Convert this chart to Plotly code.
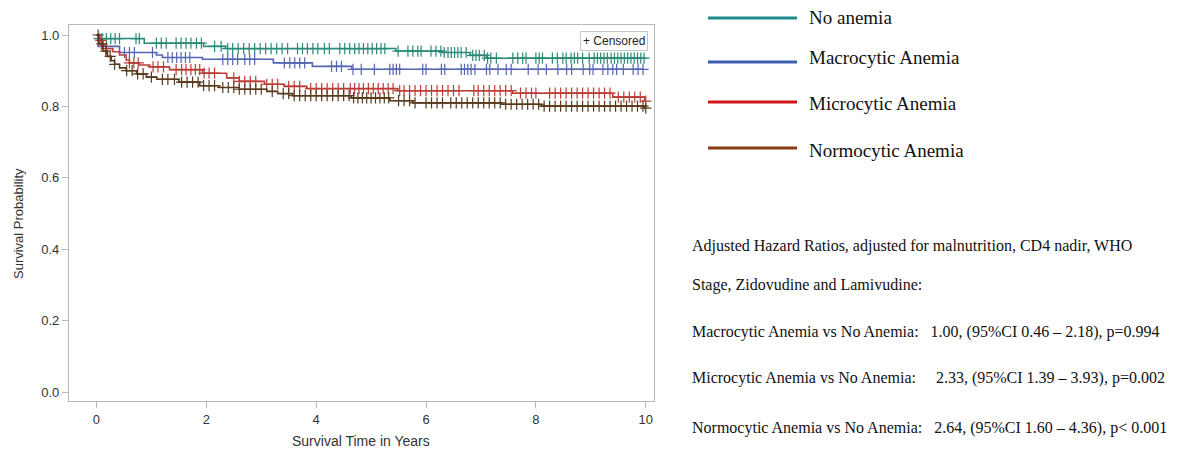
import plotly.graph_objects as go

# ---- Kaplan-Meier step data (years, survival) ----
groups = ["No anemia", "Macrocytic Anemia", "Microcytic Anemia", "Normocytic Anemia"]

noanemia_t = [0, 0.05, 0.87, 1.95, 2.35, 5.45, 6.3, 6.8, 7.1]
noanemia_s = [1.0, 0.99, 0.977, 0.968, 0.962, 0.955, 0.951, 0.943, 0.935]

macro_t = [0, 0.03, 0.42, 1.09, 1.2, 1.93, 3.22, 3.93, 4.65]
macro_s = [1.0, 0.968, 0.951, 0.944, 0.937, 0.932, 0.922, 0.912, 0.904]

micro_t = [0, 0.05, 0.12, 0.18, 0.3, 0.42, 0.54, 0.6, 0.78, 0.97, 1.33, 1.93, 2.37, 2.6,
           3.06, 3.42, 3.83, 5.48, 7.58, 9.4, 9.98]
micro_s = [1.0, 0.985, 0.972, 0.962, 0.953, 0.944, 0.93, 0.922, 0.916, 0.911, 0.903, 0.893,
           0.88, 0.87, 0.862, 0.856, 0.85, 0.844, 0.837, 0.826, 0.815]

normo_t = [0, 0.04, 0.12, 0.2, 0.27, 0.33, 0.42, 0.54, 0.73, 0.91, 1.1, 1.5, 1.88, 2.24,
           2.6, 3.1, 3.3, 3.57, 4.64, 5.34, 5.76, 7.38, 8.1, 9.98]
normo_s = [1.0, 0.975, 0.955, 0.94, 0.928, 0.918, 0.908, 0.9, 0.891, 0.882, 0.876, 0.868,
           0.858, 0.853, 0.848, 0.842, 0.836, 0.83, 0.824, 0.816, 0.81, 0.806, 0.801, 0.795]

# ---- censoring times (years) ----
noanemia_c = [0.05, 0.1, 0.18, 0.26, 0.34, 0.42, 0.72, 0.78, 1.09, 1.18, 1.27, 1.45, 1.54,
              1.63, 1.72, 1.82, 1.91, 2.15, 2.27, 2.39, 2.48, 2.58, 2.68, 2.78, 2.88, 2.98,
              3.08, 3.18, 3.28, 3.38, 3.48, 3.66, 3.75, 3.84, 3.94, 4.03, 4.15, 4.24, 4.43,
              4.52, 4.61, 4.7, 4.78, 4.86, 4.94, 5.02, 5.1, 5.18, 5.25, 5.49, 5.67, 5.76,
              5.85, 5.91, 6.09, 6.18, 6.27, 6.33, 6.4, 6.46, 6.52, 6.58, 6.64, 6.73, 6.85,
              6.91, 6.97, 7.06, 7.12, 7.18, 7.28, 7.58, 7.67, 7.76, 7.82, 8.0, 8.06, 8.12,
              8.3, 8.39, 8.49, 8.55, 8.64, 8.7, 8.76, 8.85, 8.97, 9.06, 9.12, 9.18, 9.24,
              9.3, 9.37, 9.43, 9.49, 9.55, 9.61, 9.67, 9.73, 9.79, 9.85, 9.91, 9.97]
macro_c = [0.51, 0.6, 0.69, 1.02, 1.3, 1.38, 1.46, 1.54, 1.62, 1.7, 2.3, 2.39, 2.48, 2.57,
           2.7, 2.79, 2.88, 3.42, 3.52, 3.61, 3.7, 3.79, 4.28, 4.37, 4.46, 4.67, 4.82, 5.06,
           5.34, 5.4, 5.46, 5.52, 5.94, 6.0, 6.28, 6.34, 6.64, 6.7, 6.76, 6.82, 6.89, 7.1,
           7.16, 7.31, 7.46, 7.55, 7.86, 8.04, 8.19, 8.4, 8.56, 8.65, 8.86, 8.98, 9.04,
           9.22, 9.31, 9.4, 9.47, 9.59, 9.77, 9.86, 9.95]
micro_c = [0.08, 0.18, 0.6, 0.68, 0.76, 1.03, 1.12, 1.22, 1.45, 1.55, 1.63, 1.72, 1.8,
           1.88, 1.96, 2.05, 2.15, 2.5, 2.6, 2.7, 2.8, 2.9, 3.1, 3.2, 3.3, 3.5, 3.6, 3.7,
           3.9, 4.0, 4.1, 4.2, 4.3, 4.4, 4.5, 4.62, 4.7, 4.78, 4.86, 4.95, 5.04, 5.13, 5.22,
           5.31, 5.4, 5.52, 5.6, 5.7, 5.8, 5.9, 6.0, 6.1, 6.2, 6.3, 6.4, 6.5, 6.6, 6.87,
           6.95, 7.05, 7.15, 7.25, 7.35, 7.45, 7.55, 7.72, 7.82, 7.92, 8.0, 8.25, 8.35,
           8.45, 8.55, 8.65, 8.75, 8.85, 8.95, 9.05, 9.15, 9.25, 9.35, 9.5, 9.6, 9.7, 9.8,
           9.9, 10.0]
normo_c = [0.03, 0.1, 0.17, 0.25, 0.33, 0.55, 0.65, 0.75, 0.85, 1.0, 1.2, 1.3, 1.42, 1.55,
           1.65, 1.75, 1.85, 1.95, 2.05, 2.15, 2.3, 2.4, 2.5, 2.6, 2.7, 2.8, 2.9, 3.0, 3.2,
           3.4, 3.5, 3.6, 3.7, 3.8, 3.9, 4.0, 4.1, 4.2, 4.3, 4.4, 4.5, 4.6, 4.68, 4.76,
           4.84, 4.92, 5.0, 5.08, 5.16, 5.24, 5.32, 5.5, 5.6, 5.7, 5.8, 6.0, 6.1, 6.2, 6.3,
           6.45, 6.55, 6.65, 6.75, 6.85, 6.95, 7.05, 7.15, 7.25, 7.35, 7.45, 7.55, 7.65,
           7.75, 7.85, 7.95, 8.05, 8.15, 8.25, 8.35, 8.45, 8.55, 8.65, 8.75, 8.85, 8.95,
           9.05, 9.15, 9.25, 9.35, 9.45, 9.55, 9.65, 9.75, 9.85, 9.95, 10.0]

x_ticks = [0, 2, 4, 6, 8, 10]
y_ticks = [0.0, 0.2, 0.4, 0.6, 0.8, 1.0]

x_title = "Survival Time in Years"
y_title = "Survival Probability"

hr_lines = [
    "Adjusted Hazard Ratios, adjusted for malnutrition, CD4 nadir, WHO",
    "Stage, Zidovudine and Lamivudine:",
    "Macrocytic Anemia vs No Anemia:   1.00, (95%CI 0.46 \u2013 2.18), p=0.994",
    "Microcytic Anemia vs No Anemia:     2.33, (95%CI 1.39 \u2013 3.93), p=0.002",
    "Normocytic Anemia vs No Anemia:   2.64, (95%CI 1.60 \u2013 4.36), p< 0.001",
]

plot_colors = ["#2B8A78", "#5566B4", "#BC3D36", "#5A3A1C"]
legend_colors = ["#1E8C8A", "#3A5DAE", "#D0161A", "#8A3A12"]

series = [
    (noanemia_t, noanemia_s, noanemia_c),
    (macro_t, macro_s, macro_c),
    (micro_t, micro_s, micro_c),
    (normo_t, normo_s, normo_c),
]


def surv_at(times, surv, c):
    val = surv[0]
    for t, s in zip(times, surv):
        if t <= c:
            val = s
    return val


fig = go.Figure()
for (t, s, c), col, name in zip(series, plot_colors, groups):
    tend = max(c[-1], t[-1])
    fig.add_trace(go.Scatter(x=t + [tend], y=s + [s[-1]], mode="lines",
                             line=dict(color=col, width=1.6, shape="hv"),
                             name=name, showlegend=False, hoverinfo="skip"))
    fig.add_trace(go.Scatter(x=c, y=[surv_at(t, s, ci) for ci in c], mode="markers",
                             marker=dict(symbol="cross-thin", size=8,
                                         line=dict(color=col, width=1.2)),
                             showlegend=False, hoverinfo="skip"))

axis_font = dict(family="Liberation Sans Narrow, Arial Narrow, Liberation Sans, Arial",
                 size=13, color="#333333")

# plot area in page pixels: left 69, right 654, top 25, bottom 401
L, R, T, B = 69, 654, 25, 401
W, H = 1177, 453


def px(xp):
    return (xp - L) / (R - L)


def py(yp):
    return (B - yp) / (B - T)


fig.update_layout(
    width=W, height=H,
    margin=dict(l=L, r=W - R, t=T, b=H - B, autoexpand=False),
    plot_bgcolor="white", paper_bgcolor="white",
    showlegend=False,
    font=axis_font,
)
fig.update_xaxes(range=[-0.5, 10.15], tickvals=x_ticks, ticktext=[str(v) for v in x_ticks],
                 showgrid=False, zeroline=False, showline=True, linecolor="#B8B8B8",
                 linewidth=1.2, mirror=True, ticks="outside", ticklen=6, tickcolor="#B8B8B8",
                 tickfont=axis_font, automargin=False)
fig.update_yaxes(range=[-0.025, 1.028], tickvals=y_ticks,
                 ticktext=["%.1f" % v for v in y_ticks],
                 showgrid=False, zeroline=False, showline=True, linecolor="#B8B8B8",
                 linewidth=1.2, mirror=True, ticks="outside", ticklen=6, tickcolor="#B8B8B8",
                 tickfont=axis_font, automargin=False)

# axis titles
fig.add_annotation(xref="paper", yref="paper", x=px(361), y=py(441), xanchor="center",
                   yanchor="middle", text=x_title, showarrow=False,
                   font=dict(axis_font, size=14))
fig.add_annotation(xref="paper", yref="paper", x=px(18), y=py(224), xanchor="center",
                   yanchor="middle", text=y_title, showarrow=False, textangle=-90,
                   font=dict(axis_font, size=13))

# Censored legend box inside plot
fig.add_annotation(xref="x domain", yref="y domain", x=0.99, y=0.985, xanchor="right",
                   yanchor="top", text="+ Censored", showarrow=False,
                   font=dict(family="Liberation Sans, Arial", size=12, color="#222222"),
                   bordercolor="#C8C8C8", borderwidth=1, borderpad=2, bgcolor="white")

# Custom legend on the right (page pixel positions)
leg_line_y = [18, 62, 102, 148]
leg_text_y = [17, 57, 103, 150]
serif = "Liberation Serif, Times New Roman, serif"
for name, col, ly, ty in zip(groups, legend_colors, leg_line_y, leg_text_y):
    fig.add_shape(type="line", xref="paper", yref="paper", x0=px(708), x1=px(797),
                  y0=py(ly), y1=py(ly), line=dict(color=col, width=3))
    fig.add_annotation(xref="paper", yref="paper", x=px(807), y=py(ty), xanchor="left",
                       yanchor="middle", text=name, showarrow=False,
                       font=dict(family=serif, size=19, color="#111111"))

hr_y = [246, 285, 332, 378, 428]
for line, yy in zip(hr_lines, hr_y):
    fig.add_annotation(xref="paper", yref="paper", x=px(690), y=py(yy), xanchor="left",
                       yanchor="middle", text=line.replace("  ", "&nbsp; "), showarrow=False,
                       font=dict(family=serif, size=16, color="#111111"))

fig.write_html("out.html", config={"displayModeBar": False},
               post_script="document.body.style.margin='0';"
                           "document.body.style.overflow='hidden';")
